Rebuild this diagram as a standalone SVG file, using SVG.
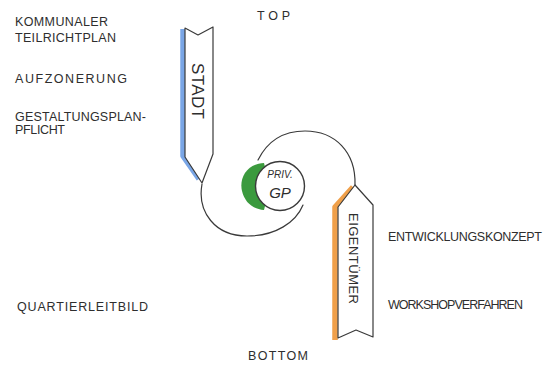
<svg xmlns="http://www.w3.org/2000/svg" width="549" height="365" viewBox="0 0 549 365">
<style>
.t{font-family:"Liberation Sans",Arial,sans-serif;fill:#2e2e2e;font-size:12.5px}
.ln{fill:none;stroke:#3a3a3a;stroke-width:1.2;stroke-linecap:round;stroke-linejoin:round}
.ar{fill:#fff;stroke:#3a3a3a;stroke-width:1.2;stroke-linejoin:round}
.lab{font-family:"Liberation Sans",Arial,sans-serif;fill:#2e2e2e}
</style>
<rect width="549" height="365" fill="#fff"/>
<g id="connectors">
<path class="ln" d="M202,184 C197,212 215,236 247,236 C276,236 296,222 303,205"/>
<path class="ln" d="M258,160 C268,140 285,131 305,131 C335,131 356,152 355,185"/>
</g>
<g id="stadt">
<path d="M183,29 L183,156 L199,179" fill="none" stroke="#7aa6e6" stroke-width="5.5" stroke-linejoin="round"/>
<path class="ar" d="M185,28 L198,35 L213,27 L213,154 L202,183 L185,157 Z"/>
<text class="lab" transform="translate(192,63) rotate(90)" style="font-size:17px" textLength="56" lengthAdjust="spacing">STADT</text>
</g>
<g id="privgp">
<path d="M264,163 C246,164 239,179 242,191 C245,203 253,209 264,210 L270,186 Z" fill="#3b9a3e"/>
<circle cx="280" cy="186" r="24.5" fill="#fff" stroke="#3a3a3a" stroke-width="1.4"/>
<text x="280" y="178" text-anchor="middle" style="font-family:'Liberation Sans',Arial,sans-serif;font-size:10px;font-style:italic;fill:#2e2e2e">PRIV.</text>
<text x="280" y="198" text-anchor="middle" style="font-family:'Liberation Sans',Arial,sans-serif;font-size:15px;font-style:italic;fill:#2e2e2e">GP</text>
</g>
<g id="eigentuemer">
<path d="M353,187 L335,207 L335,340" fill="none" stroke="#f0a04a" stroke-width="5.5" stroke-linejoin="round"/>
<path class="ar" d="M355,185 L373,205 L373,337 L356,330 L338,338 L338,207 Z"/>
<text class="lab" transform="translate(349,213) rotate(90)" style="font-size:13px" textLength="91" lengthAdjust="spacing">EIGENTÜMER</text>
</g>
<g id="labels">
<text class="t" x="257" y="20" textLength="33" lengthAdjust="spacing">TOP</text>
<text class="t" x="15" y="26" textLength="93" lengthAdjust="spacing">KOMMUNALER</text>
<text class="t" x="15" y="42" textLength="101" lengthAdjust="spacing">TEILRICHTPLAN</text>
<text class="t" x="15" y="83" textLength="112" lengthAdjust="spacing">AUFZONERUNG</text>
<text class="t" x="15" y="121" textLength="131" lengthAdjust="spacing">GESTALTUNGSPLAN-</text>
<text class="t" x="15" y="134" textLength="50" lengthAdjust="spacing">PFLICHT</text>
<text class="t" x="388" y="241" textLength="154" lengthAdjust="spacing">ENTWICKLUNGSKONZEPT</text>
<text class="t" x="388" y="309" textLength="135" lengthAdjust="spacing">WORKSHOPVERFAHREN</text>
<text class="t" x="17" y="311" textLength="131" lengthAdjust="spacing">QUARTIERLEITBILD</text>
<text class="t" x="248" y="360" textLength="60" lengthAdjust="spacing">BOTTOM</text>
</g>
</svg>
